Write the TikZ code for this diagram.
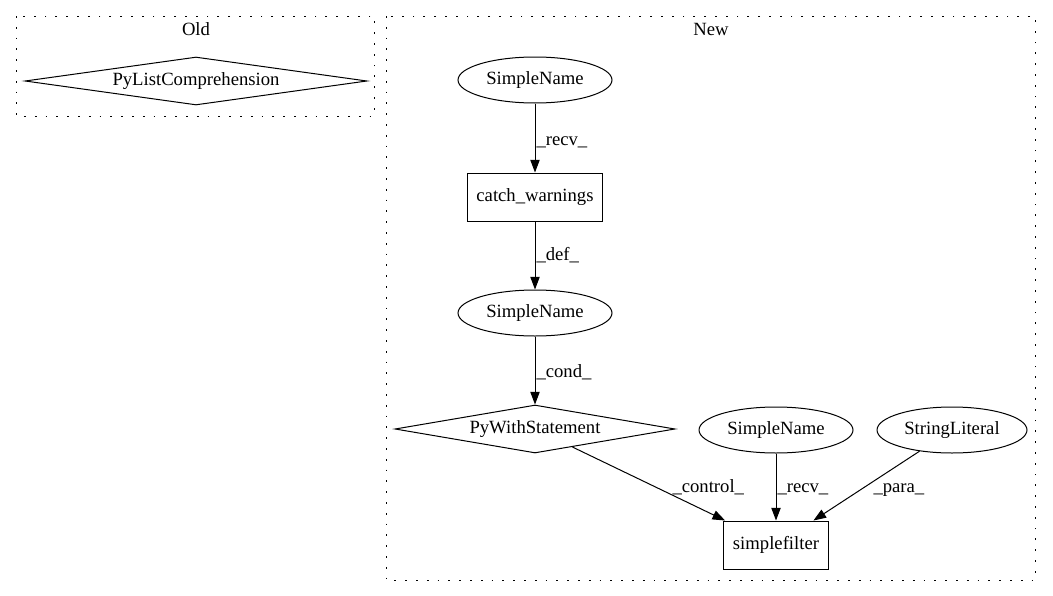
\documentclass[tikz,border=0pt]{standalone}
\usepackage{fontspec}
\setmainfont{Liberation Serif}
\usetikzlibrary{shapes.geometric,arrows.meta}

\begin{document}
\begin{tikzpicture}[x=0.75pt,y=-0.75pt,
                font=\fontsize{14}{16}\selectfont,
                cluster/.style={draw,line width=0.75pt,dash pattern=on 1.3pt off 6.8pt},
                ell/.style={draw,ellipse,line width=0.75pt,inner sep=0pt,minimum width=115.5pt,minimum height=34.5pt},
                diam/.style={draw,diamond,line width=0.75pt,inner sep=0pt,shape aspect=6,minimum height=36pt},
                box/.style={draw,rectangle,line width=0.75pt,inner sep=0pt,minimum height=36pt},
                edge/.style={line width=0.75pt,-{Triangle[length=9.5pt,width=7pt]}},
                lbl/.style={anchor=base west,inner sep=0pt}]
                \useasboundingbox (0,0) rectangle (1053,596);
                % clusters
                \draw[cluster] (16,16) rectangle (374,116);
                \draw[cluster] (386,16) rectangle (1035,580);
                \node[anchor=base] (oldlbl) at (196,36) {Old};
                \node[anchor=base] (newlbl) at (711,36) {New};
                % old
                \node[diam,minimum width=256.5pt] (listcomp) at (196,81) {PyListComprehension};
                % new
                \node[ell] (sname1) at (535,80) {SimpleName};
                \node[box,minimum width=101.25pt] (catchw) at (535,197) {catch\_warnings};
                \node[ell] (sname2) at (535,313) {SimpleName};
                \node[diam,minimum width=210pt] (withstmt) at (535,429) {PyWithStatement};
                \node[ell] (sname3) at (776,430) {SimpleName};
                \node[ell,minimum width=112.5pt] (strlit) at (952,430) {StringLiteral};
                \node[box,minimum width=78.75pt] (sfilter) at (776,545) {simplefilter};
                % edges
                \draw[edge] (sname1) -- (catchw) node[lbl] at (536,145) {\_recv\_};
                \draw[edge] (catchw) -- (sname2) node[lbl] at (536,260) {\_def\_};
                \draw[edge] (sname2) -- (withstmt) node[lbl] at (536,377) {\_cond\_};
                \draw[edge] (withstmt) -- (sfilter) node[lbl] at (672,492) {\_control\_};
                \draw[edge] (sname3) -- (sfilter) node[lbl] at (777,492) {\_recv\_};
                \draw[edge] (strlit) -- (sfilter) node[lbl] at (873,492) {\_para\_};
\end{tikzpicture}
\end{document}
